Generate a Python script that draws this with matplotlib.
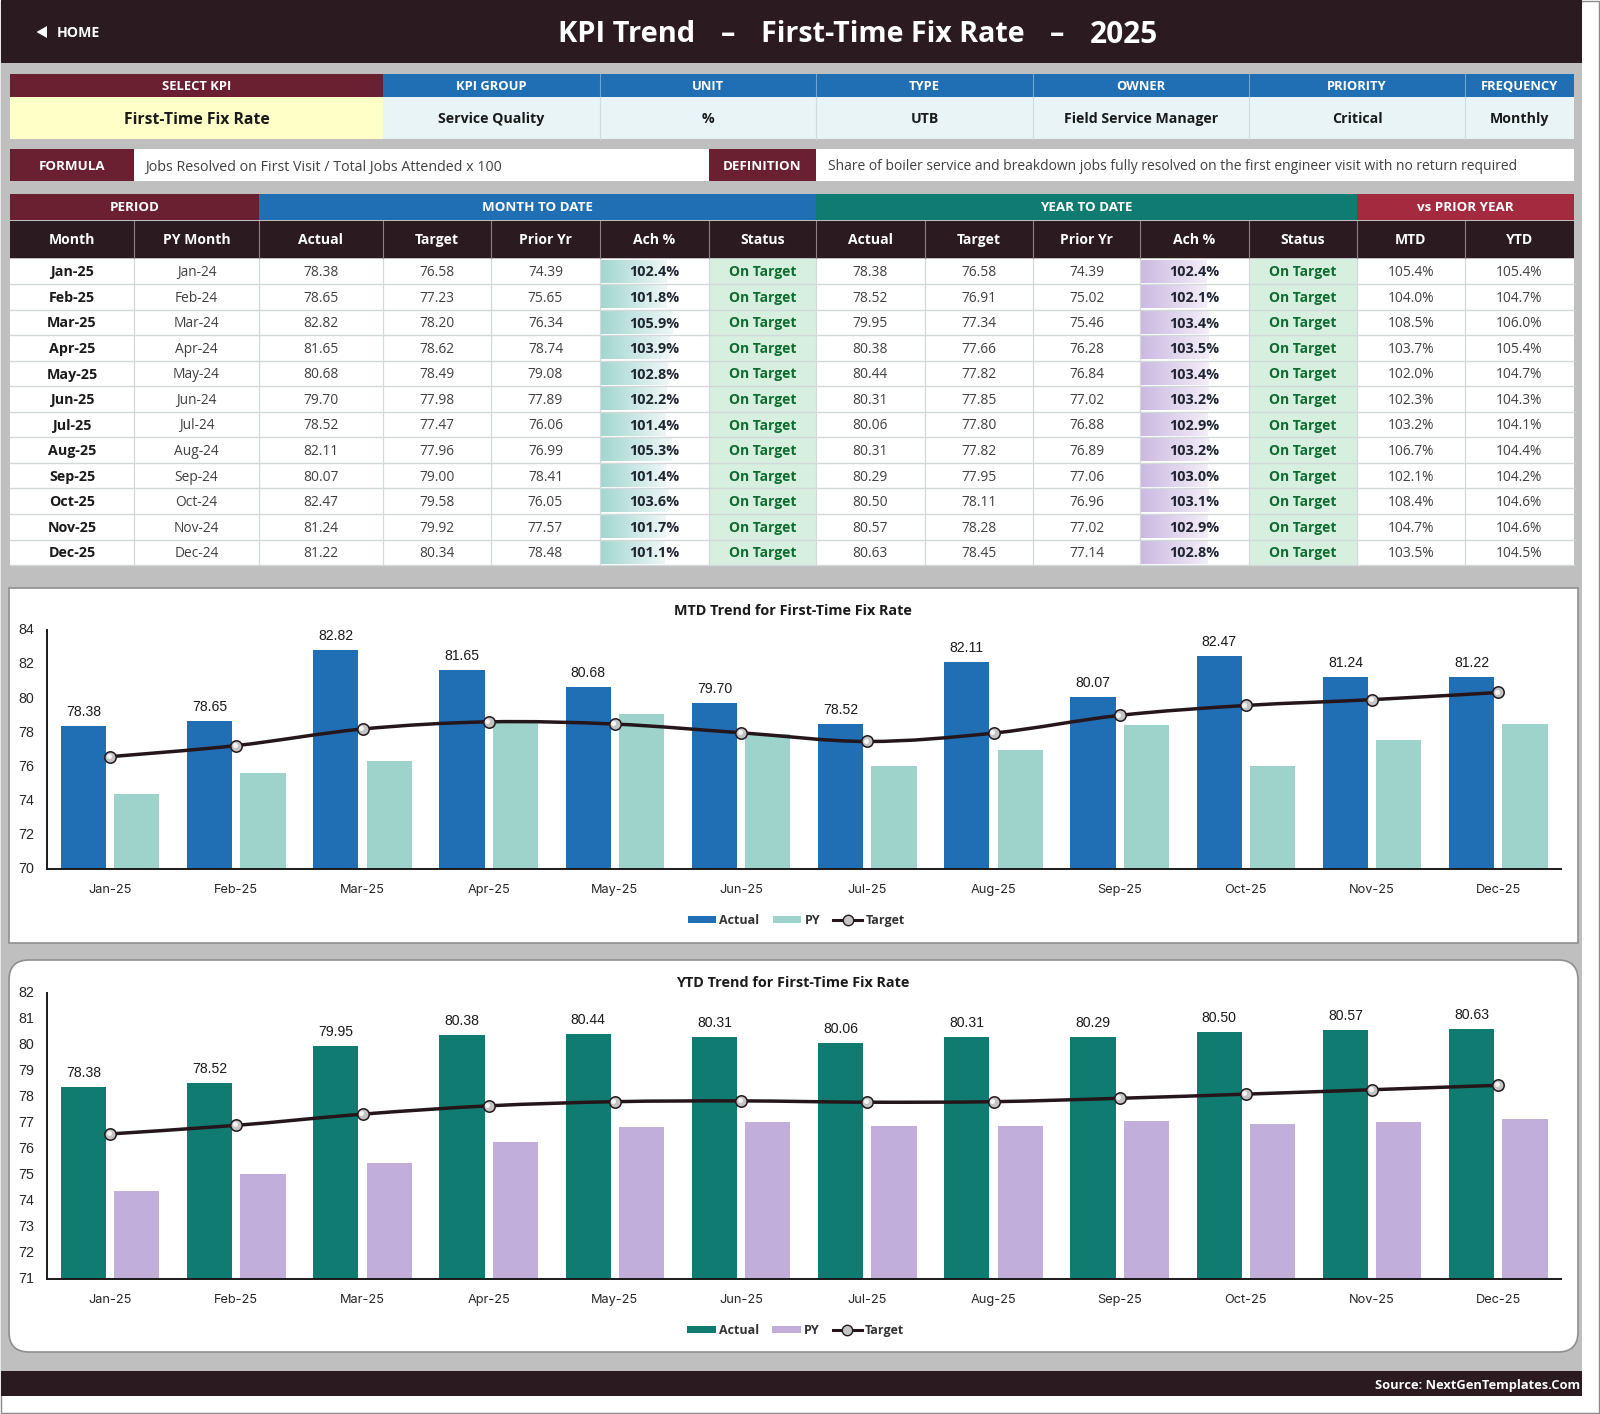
import numpy as np
import matplotlib
matplotlib.use("Agg")
import matplotlib.pyplot as plt
from matplotlib.patches import Rectangle, FancyBboxPatch, PathPatch
from matplotlib.path import Path
from matplotlib.colors import LinearSegmentedColormap
from matplotlib.lines import Line2D
from matplotlib.transforms import ScaledTranslation

months = ["Jan","Feb","Mar","Apr","May","Jun","Jul","Aug","Sep","Oct","Nov","Dec"]
month_25 = [m + "-25" for m in months]
month_24 = [m + "-24" for m in months]
mtd_actual = [78.38,78.65,82.82,81.65,80.68,79.70,78.52,82.11,80.07,82.47,81.24,81.22]
mtd_target = [76.58,77.23,78.20,78.62,78.49,77.98,77.47,77.96,79.00,79.58,79.92,80.34]
mtd_prior = [74.39,75.65,76.34,78.74,79.08,77.89,76.06,76.99,78.41,76.05,77.57,78.48]
mtd_ach = [102.4,101.8,105.9,103.9,102.8,102.2,101.4,105.3,101.4,103.6,101.7,101.1]
ytd_actual = [78.38,78.52,79.95,80.38,80.44,80.31,80.06,80.31,80.29,80.50,80.57,80.63]
ytd_target = [76.58,76.91,77.34,77.66,77.82,77.85,77.80,77.82,77.95,78.11,78.28,78.45]
ytd_prior = [74.39,75.02,75.46,76.28,76.84,77.02,76.88,76.89,77.06,76.96,77.02,77.14]
ytd_ach = [102.4,102.1,103.4,103.5,103.4,103.2,102.9,103.2,103.0,103.1,102.9,102.8]
vs_mtd = [105.4,104.0,108.5,103.7,102.0,102.3,103.2,106.7,102.1,108.4,104.7,103.5]
vs_ytd = [105.4,104.7,106.0,105.4,104.7,104.3,104.1,104.4,104.2,104.6,104.6,104.5]
status = ["On Target"] * 12

info_heads = ["KPI GROUP","UNIT","TYPE","OWNER","PRIORITY","FREQUENCY"]
info_vals = ["Service Quality","%","UTB","Field Service Manager","Critical","Monthly"]
col_heads = ["Month","PY Month","Actual","Target","Prior Yr","Ach %","Status",
             "Actual","Target","Prior Yr","Ach %","Status","MTD","YTD"]

DARK="#2B1A20"; MAROON="#6B2032"; BLUE="#206EB3"; TEAL="#107C71"; CRIM="#A32A3F"
GRAY="#BFBFBF"; LIGHT="#E8F4F5"; YEL="#FFFFC8"; GRN="#D6EFDF"; GTXT="#0F6B30"
TXT="#404040"; INK="#1E2430"; PYT="#9DD3CB"; PYP="#C1AEDB"; LINEC="#D3D8DB"
SANS="Open Sans"; ARIAL="Liberation Sans"

fig = plt.figure(figsize=(16,14.14), dpi=100, facecolor="white")
bg = fig.add_axes([0,0,1,1]); bg.set_xlim(0,1600); bg.set_ylim(1414,0); bg.axis("off")

def box(x0,y0,x1,y1,c,ec="none",lw=0,z=1):
    bg.add_patch(Rectangle((x0,y0),x1-x0,y1-y0,fc=c,ec=ec,lw=lw,zorder=z))
def put(x,y,s,size,c="white",w="bold",ha="center",f=SANS,z=5):
    bg.text(x,y+0.357*size*100/72,s,fontsize=size,color=c,fontweight=w,ha=ha,va="baseline",family=f,zorder=z)

box(1,1,1582,1371,GRAY)
box(1,0,1582,63,DARK)
box(1,1371,1582,1396,DARK)
box(0.5,0.5,1599,1413,"none",ec="#8A8A8A",lw=1,z=0.5)
bg.add_patch(plt.Polygon([[36.5,32],[47,26],[47,38]],fc="white",ec="none",zorder=5))
put(78,31.5,"HOME",10.2)
put(627,32,"KPI Trend",20.9); put(728.5,32,"–",20.9); put(893,32,"First-Time Fix Rate",20.6)
put(1057,32,"–",20.9); put(1124,32,"2025",21.4)
put(1580,1384,"Source: NextGenTemplates.Com",9.25,ha="right")

X=[10,134,259,383,491,600,709,816,924.5,1033,1140,1249,1357,1465,1573.5]
box(10,74,383,97,MAROON); box(10,97,383,139,YEL)
put(196.5,85,"SELECT KPI",9.4); put(196.5,118,"First-Time Fix Rate",11.3,c="#1A1A1A")
info_edges=[383,600,816,1033,1249,1465,1573.5]
for i,(h,v) in enumerate(zip(info_heads,info_vals)):
    a,b=info_edges[i],info_edges[i+1]
    box(a,74,b,97,BLUE); box(a,97,b,139,LIGHT)
    if i:
        bg.plot([a,a],[74,97],color="#6FA3D2",lw=0.8,zorder=2)
        bg.plot([a,a],[97,139],color="#CFDDE2",lw=0.8,zorder=2)
    put((a+b)/2,85,h,9.4); put((a+b)/2,118,v,10.2,c="#1A1A1A")
box(10,149,134,181,MAROON); box(134,149,709,181,"white")
put(72,165,"FORMULA",9.6)
put(145,165.5,"Jobs Resolved on First Visit / Total Jobs Attended x 100",10.25,c=TXT,w="normal",ha="left")
box(709,149,816,181,MAROON); box(816,149,1573.5,181,"white")
put(762.5,165,"DEFINITION",9.6)
put(828,165.5,"Share of boiler service and breakdown jobs fully resolved on the first engineer visit with no return required",9.96,c=TXT,w="normal",ha="left")
for a,b,c,s in [(10,259,MAROON,"PERIOD"),(259,816,BLUE,"MONTH TO DATE"),(816,1357,TEAL,"YEAR TO DATE"),(1357,1573.5,CRIM,"vs PRIOR YEAR")]:
    box(a,193.5,b,220,c); put((a+b)/2,206,s,9.6)
box(10,221,1573.5,258,DARK)
for i,h in enumerate(col_heads):
    put((X[i]+X[i+1])/2,239,h,10.1)
    if i: bg.plot([X[i],X[i]],[221,258],color="#8C8286",lw=0.8,zorder=2)
R0=258.5; RH=25.55
box(10,R0,1573.5,R0+12*RH,"white")
teal_map=LinearSegmentedColormap.from_list("t",["#A3D6D0","#EEF7F6"])
purp_map=LinearSegmentedColormap.from_list("p",["#CBB9E2","#F3EEF8"])
grad=np.linspace(0,1,128)[None,:]
for r in range(12):
    y0=R0+r*RH; yc=y0+RH/2
    cols=[month_25[r],month_24[r],f"{mtd_actual[r]:.2f}",f"{mtd_target[r]:.2f}",f"{mtd_prior[r]:.2f}",
          f"{mtd_ach[r]:.1f}%",status[r],f"{ytd_actual[r]:.2f}",f"{ytd_target[r]:.2f}",f"{ytd_prior[r]:.2f}",
          f"{ytd_ach[r]:.1f}%",status[r],f"{vs_mtd[r]:.1f}%",f"{vs_ytd[r]:.1f}%"]
    for i,s in enumerate(cols):
        cx=(X[i]+X[i+1])/2
        if i in (6,11):
            box(X[i],y0,X[i+1],y0+RH,GRN)
            put(cx,yc,s,10,c=GTXT)
        elif i in (5,10):
            v=mtd_ach[r] if i==5 else ytd_ach[r]
            span=66+1.6*(v-102.4)
            bg.imshow(grad,extent=(X[i]+1,X[i]+1+span,y0+RH-1.5,y0+1.5),aspect="auto",
                      cmap=teal_map if i==5 else purp_map,zorder=2)
            put(cx,yc,s,10.4,c=INK)
        elif i==0:
            put(cx,yc,s,10.3,c="#1A1A1A")
        else:
            put(cx,yc,s,9.9,c=TXT,w="normal")
    bg.plot([10,1573.5],[y0+RH,y0+RH],color=LINEC,lw=1,zorder=3)
for x in X[1:-1]:
    bg.plot([x,x],[R0,R0+12*RH],color=LINEC,lw=0.9,zorder=3)
bg.set_xlim(0,1600); bg.set_ylim(1414,0)

box(9,587.5,1578,943,"white",ec="#8F8F8F",lw=1.2,z=1)
bg.add_patch(FancyBboxPatch((21,972),1545,368,boxstyle="round,pad=12,rounding_size=20",fc="white",ec="#8F8F8F",lw=1.2,zorder=1))
put(793,610,"MTD Trend for First-Time Fix Rate",10.35,c="#1A1A1A")
put(793,982,"YTD Trend for First-Time Fix Rate",10.35,c="#1A1A1A")

def smooth_path(x,y):
    pts=np.column_stack([x,y]); verts=[pts[0]]; codes=[Path.MOVETO]
    for i in range(len(pts)-1):
        p0=pts[max(i-1,0)]; p1=pts[i]; p2=pts[i+1]; p3=pts[min(i+2,len(pts)-1)]
        verts+= [p1+(p2-p0)/6, p2-(p3-p1)/6, p2]; codes+=[Path.CURVE4]*3
    return Path(verts,codes)

def chart(top,bot,lo,hi,actual,prior,target,c1,c2,legx,legy):
    ax=fig.add_axes([47/1600,1-bot/1414,(1561.4-47)/1600,(bot-top)/1414],facecolor="none",zorder=5)
    x=np.arange(12); w=0.357; off=0.2115
    ax.bar(x-off,actual,w,color=c1,zorder=2)
    ax.bar(x+off,prior,w,color=c2,zorder=2)
    ax.add_patch(PathPatch(smooth_path(x,target),fc="none",ec="#24161B",lw=2.5,zorder=3))
    ax.plot(x,target,ls="none",marker="o",ms=8.2,mfc="#C4C4C4",mec="#24161B",mew=1.1,zorder=4)
    ax.plot(x-0.012,np.array(target)+(hi-lo)*0.0035,ls="none",marker="o",ms=3.6,mfc="#F4F4F4",mec="none",zorder=5)
    for xi,v in zip(x,actual):
        ax.annotate(f"{v:.2f}",(xi-off,v),xytext=(0,10.1),textcoords="offset points",ha="center",va="center",
                    fontsize=10.1,family=ARIAL,color="#1A1A1A")
    ax.set_xlim(-0.5,11.5); ax.set_ylim(lo,hi)
    ax.set_yticks(np.arange(lo,hi+1,2 if hi-lo>12 else 1))
    ax.set_xticks(x,month_25)
    for s in ("top","right"): ax.spines[s].set_visible(False)
    for s in ("left","bottom"): ax.spines[s].set_color("#1A1A1A"); ax.spines[s].set_linewidth(1.4)
    ax.tick_params(axis="both",length=0)
    ax.tick_params(axis="y",pad=9,labelsize=10.3,labelcolor="#262626")
    ax.tick_params(axis="x",pad=11,labelsize=9.2,labelcolor="#262626")
    shift=ScaledTranslation(0,1.2/100,fig.dpi_scale_trans)
    for t in ax.get_yticklabels():
        t.set_family(ARIAL); t.set_transform(t.get_transform()+shift)
    for t in ax.get_xticklabels(): t.set_family("Inter")
    handles=[Rectangle((0,0),1,1,fc=c1),Rectangle((0,0),1,1,fc=c2),
             Line2D([],[],color="#24161B",lw=2.2,marker="o",ms=7.5,mfc="#C4C4C4",mec="#24161B")]
    leg=ax.legend(handles,["Actual","PY","Target"],ncol=3,loc="center",bbox_to_anchor=(legx/1600,1-legy/1414),
              bbox_transform=fig.transFigure,frameon=False,handlelength=2.3,handleheight=0.55,handletextpad=0.25,columnspacing=1.05,
              prop={"family":SANS,"size":9,"weight":"bold"})
    for t in leg.get_texts(): t.set_color("#333333")
    return ax

chart(630,869,70,84,mtd_actual,mtd_prior,mtd_target,BLUE,PYT,796,920.5)
chart(993,1279,71,82,ytd_actual,ytd_prior,ytd_target,TEAL,PYP,795.5,1330.5)

fig.savefig("out.png",dpi=100)
